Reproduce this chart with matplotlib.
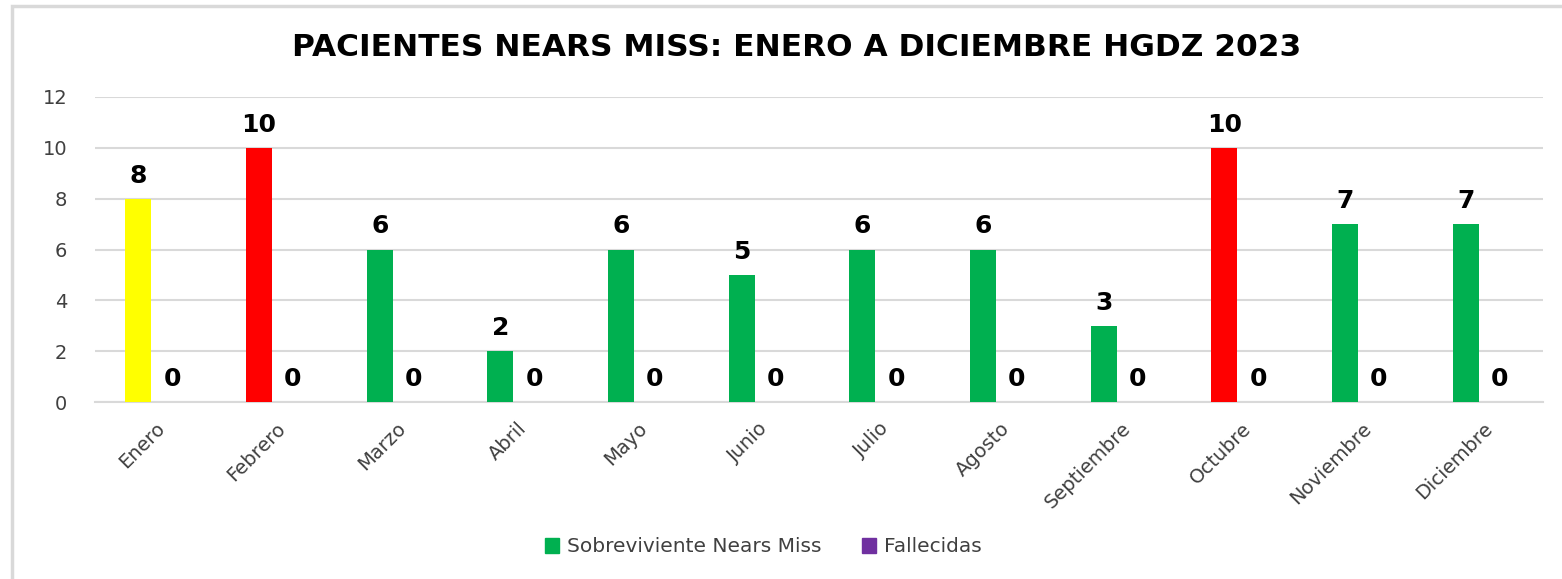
import matplotlib
matplotlib.use("Agg")
import matplotlib.pyplot as plt
from matplotlib.patches import Rectangle, Patch
import numpy as np

meses = ["Enero", "Febrero", "Marzo", "Abril", "Mayo", "Junio", "Julio",
         "Agosto", "Septiembre", "Octubre", "Noviembre", "Diciembre"]
sobrevivientes = [8, 10, 6, 2, 6, 5, 6, 6, 3, 10, 7, 7]
fallecidas = [0, 0, 0, 0, 0, 0, 0, 0, 0, 0, 0, 0]
colores_sobrev = ["#FFFF00", "#FF0000", "#00B050", "#00B050", "#00B050", "#00B050",
                  "#00B050", "#00B050", "#00B050", "#FF0000", "#00B050", "#00B050"]
titulo = "PACIENTES NEARS MISS: ENERO A DICIEMBRE HGDZ 2023"
leyenda = ["Sobreviviente Nears Miss", "Fallecidas"]

W, H = 1562, 579
fig = plt.figure(figsize=(W / 100, H / 100), dpi=100)
fig.patch.set_facecolor("white")

# chart border (cropped at right/bottom)
fig.patches.append(Rectangle((12 / W, -0.05), 1.2, 1 - 6 / H + 0.05, transform=fig.transFigure,
                             fill=False, edgecolor="#D9D9D9", linewidth=2.5, zorder=0))

ax = fig.add_axes([95 / W, 1 - 402 / H, (1543 - 95) / W, (402 - 97) / H])
x = np.arange(len(meses))
bw = 0.215
off = 0.14
b1 = ax.bar(x - off, sobrevivientes, bw, color=colores_sobrev, zorder=3)
b2 = ax.bar(x + off, fallecidas, bw, color="#7030A0", zorder=3)

for rect, v in zip(b1, sobrevivientes):
    ax.annotate(str(v), (rect.get_x() + rect.get_width() / 2, v), xytext=(0, 8),
                textcoords="offset points", ha="center", va="bottom",
                fontsize=18, fontweight="bold", color="black")
for rect, v in zip(b2, fallecidas):
    ax.annotate(str(v), (rect.get_x() + rect.get_width() / 2, v), xytext=(0, 8),
                textcoords="offset points", ha="center", va="bottom",
                fontsize=18, fontweight="bold", color="black")

ax.set_xlim(-0.5, len(meses) - 0.5)
ax.set_ylim(0, 12)
ax.set_yticks(np.arange(0, 13, 2))
ax.yaxis.grid(True, color="#D9D9D9", linewidth=1.5, zorder=0)
ax.set_axisbelow(True)
for s in ["top", "right", "left"]:
    ax.spines[s].set_visible(False)
ax.spines["bottom"].set_color("#D9D9D9")
ax.spines["bottom"].set_linewidth(1.5)
ax.tick_params(axis="both", length=0, labelsize=14, colors="#404040")
ax.tick_params(axis="y", pad=20)
ax.tick_params(axis="x", pad=12)
ax.set_xticks(x)
ax.set_xticklabels(meses, rotation=45, ha="right", rotation_mode="anchor")

fig.text(797 / W, 1 - 47 / H, titulo, ha="center", va="center",
         fontsize=22.5, fontweight="bold", color="black")

handles = [Patch(color="#00B050"), Patch(color="#7030A0")]
fig.legend(handles, leyenda, loc="center", bbox_to_anchor=(763 / W, 1 - 547 / H),
           ncol=2, frameon=False, fontsize=14.5, handlelength=0.7, handleheight=0.7,
           handletextpad=0.4, columnspacing=2.0, labelcolor="#404040")

fig.savefig("out.png", dpi=100, facecolor="white")
